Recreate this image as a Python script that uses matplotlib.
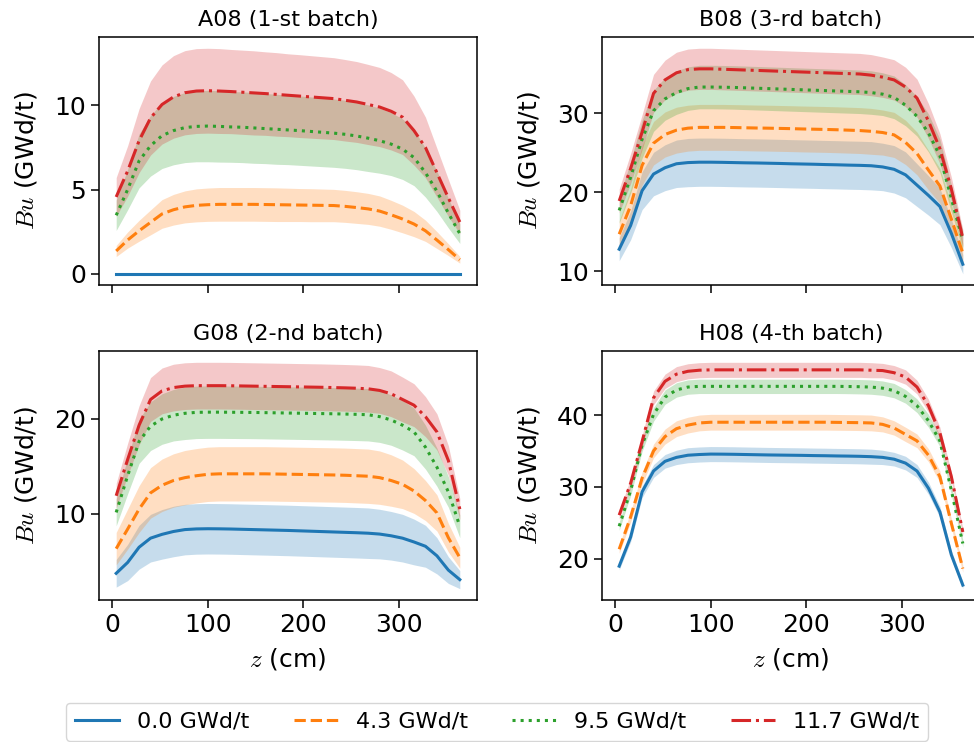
import matplotlib
matplotlib.use('Agg')
import matplotlib.pyplot as plt
import numpy as np

plt.rcParams['mathtext.fontset'] = 'cm'
plt.rcParams['font.family'] = ['DejaVu Sans']

# axial positions (cm)
z = [4, 16, 28, 40, 52, 64, 76, 88, 100, 112, 124, 136, 148, 160, 172, 184,
     196, 208, 220, 232, 244, 256, 268, 280, 292, 304, 316, 328, 340, 352, 364]

labels = ['0.0 GWd/t', '4.3 GWd/t', '9.5 GWd/t', '11.7 GWd/t']
titles = ['A08 (1-st batch)', 'B08 (3-rd batch)', 'G08 (2-nd batch)', 'H08 (4-th batch)']
yticks = [[0, 5, 10], [10, 20, 30], [10, 20], [20, 30, 40]]
xticks = [0, 100, 200, 300]

# ---- A08 ----
a_blue = [0.0, 0.0, 0.0, 0.0, 0.0, 0.0, 0.0, 0.0, 0.0, 0.0, 0.0, 0.0, 0.0, 0.0, 0.0, 0.0,
          0.0, 0.0, 0.0, 0.0, 0.0, 0.0, 0.0, 0.0, 0.0, 0.0, 0.0, 0.0, 0.0, 0.0, 0.0]
a_blue_sd = [0.0, 0.0, 0.0, 0.0, 0.0, 0.0, 0.0, 0.0, 0.0, 0.0, 0.0, 0.0, 0.0, 0.0, 0.0, 0.0,
             0.0, 0.0, 0.0, 0.0, 0.0, 0.0, 0.0, 0.0, 0.0, 0.0, 0.0, 0.0, 0.0, 0.0, 0.0]
a_orange = [1.35, 2.0, 2.55, 3.05, 3.55, 3.8, 3.97, 4.06, 4.1, 4.12, 4.12, 4.12, 4.12, 4.11, 4.1,
            4.09, 4.08, 4.07, 4.06, 4.05, 4.0, 3.93, 3.85, 3.72, 3.5, 3.25, 2.95, 2.55, 2.0, 1.43, 0.83]
a_orange_sd = [0.33, 0.48, 0.62, 0.74, 0.85, 0.91, 0.95, 0.98, 0.99, 1.0, 1.0, 1.0, 1.0, 1.0, 1.0,
               0.99, 0.98, 0.98, 0.97, 0.96, 0.95, 0.94, 0.92, 0.9, 0.86, 0.82, 0.75, 0.63, 0.5, 0.35, 0.2]
a_green = [3.47, 5.0, 6.7, 7.6, 8.2, 8.5, 8.68, 8.75, 8.77, 8.75, 8.72, 8.7, 8.66, 8.62, 8.58,
           8.54, 8.5, 8.45, 8.4, 8.35, 8.28, 8.18, 8.05, 7.9, 7.7, 7.4, 6.9, 6.0, 4.9, 3.6, 2.38]
a_green_sd = [0.9, 1.2, 1.6, 1.8, 1.95, 2.03, 2.08, 2.1, 2.12, 2.12, 2.1, 2.1, 2.1, 2.08, 2.08,
              2.06, 2.06, 2.05, 2.04, 2.03, 2.02, 2.0, 1.98, 1.93, 1.87, 1.8, 1.67, 1.45, 1.2, 0.88, 0.58]
a_red = [4.56, 6.1, 7.9, 9.25, 10.05, 10.5, 10.75, 10.85, 10.87, 10.85, 10.82, 10.78, 10.74, 10.7, 10.65,
         10.6, 10.55, 10.5, 10.45, 10.4, 10.3, 10.2, 10.05, 9.9, 9.65, 9.3, 8.5, 7.5, 6.0, 4.5, 3.07]
a_red_sd = [1.15, 1.5, 1.9, 2.2, 2.35, 2.45, 2.5, 2.52, 2.52, 2.52, 2.5, 2.5, 2.5, 2.48, 2.48,
            2.46, 2.46, 2.45, 2.44, 2.43, 2.42, 2.4, 2.38, 2.35, 2.3, 2.22, 2.05, 1.8, 1.45, 1.1, 0.7]

# ---- B08 ----
b_blue = [12.8, 15.8, 20.2, 22.3, 23.1, 23.6, 23.75, 23.8, 23.8, 23.78, 23.75, 23.72, 23.7, 23.67, 23.64,
          23.6, 23.57, 23.54, 23.5, 23.47, 23.43, 23.4, 23.35, 23.2, 22.9, 22.2, 20.9, 19.6, 18.2, 14.8, 10.9]
b_blue_sd = [1.45, 1.8, 2.4, 2.75, 2.9, 3.0, 3.05, 3.05, 3.05, 3.05, 3.05, 3.05, 3.05, 3.05, 3.05,
             3.05, 3.05, 3.05, 3.05, 3.05, 3.05, 3.05, 3.05, 3.0, 3.0, 2.9, 2.7, 2.5, 2.3, 1.8, 1.2]
b_orange = [14.7, 18.3, 23.4, 26.2, 27.3, 27.85, 28.1, 28.2, 28.2, 28.2, 28.18, 28.15, 28.12, 28.1, 28.07,
            28.04, 28.0, 27.97, 27.94, 27.9, 27.85, 27.8, 27.7, 27.55, 27.25, 26.3, 24.9, 22.8, 20.8, 16.6, 12.3]
b_orange_sd = [1.7, 2.1, 2.5, 2.75, 2.85, 2.9, 2.9, 2.9, 2.9, 2.9, 2.9, 2.9, 2.9, 2.9, 2.9,
               2.9, 2.9, 2.9, 2.9, 2.9, 2.9, 2.9, 2.9, 2.85, 2.85, 2.8, 2.7, 2.5, 2.2, 1.8, 1.3]
b_green = [17.7, 21.9, 26.7, 30.3, 31.8, 32.6, 33.1, 33.3, 33.3, 33.28, 33.25, 33.2, 33.15, 33.1, 33.05,
           33.0, 32.95, 32.9, 32.85, 32.8, 32.75, 32.7, 32.6, 32.4, 32.0, 31.0, 29.6, 27.5, 24.6, 19.2, 13.9]
b_green_sd = [1.6, 2.0, 2.4, 2.6, 2.7, 2.75, 2.75, 2.75, 2.75, 2.75, 2.75, 2.75, 2.75, 2.75, 2.75,
              2.75, 2.75, 2.75, 2.75, 2.75, 2.75, 2.75, 2.75, 2.7, 2.7, 2.6, 2.5, 2.4, 2.1, 1.7, 1.2]
b_red = [18.9, 23.0, 27.6, 32.5, 34.2, 35.1, 35.5, 35.6, 35.6, 35.55, 35.5, 35.45, 35.4, 35.35, 35.3,
         35.25, 35.2, 35.15, 35.1, 35.05, 35.0, 34.95, 34.8, 34.55, 34.2, 33.3, 31.9, 29.0, 25.5, 20.4, 14.2]
b_red_sd = [1.5, 1.9, 2.2, 2.4, 2.5, 2.6, 2.6, 2.6, 2.6, 2.6, 2.6, 2.6, 2.6, 2.6, 2.6,
            2.6, 2.6, 2.6, 2.6, 2.6, 2.6, 2.6, 2.6, 2.55, 2.55, 2.5, 2.4, 2.2, 1.9, 1.5, 1.1]

# ---- G08 ----
g_blue = [3.76, 4.9, 6.5, 7.45, 7.85, 8.15, 8.35, 8.42, 8.44, 8.43, 8.41, 8.38, 8.35, 8.32, 8.29,
          8.26, 8.22, 8.18, 8.14, 8.1, 8.06, 8.02, 7.97, 7.88, 7.7, 7.45, 7.05, 6.6, 5.6, 4.1, 3.1]
g_blue_sd = [1.45, 1.9, 2.3, 2.5, 2.6, 2.65, 2.65, 2.65, 2.65, 2.65, 2.65, 2.65, 2.65, 2.65, 2.65,
             2.65, 2.65, 2.65, 2.65, 2.65, 2.65, 2.65, 2.65, 2.6, 2.55, 2.5, 2.4, 2.2, 1.9, 1.4, 0.95]
g_orange = [6.35, 8.4, 10.5, 12.2, 13.0, 13.5, 13.8, 14.0, 14.15, 14.2, 14.2, 14.2, 14.2, 14.2, 14.18,
            14.16, 14.14, 14.12, 14.1, 14.08, 14.05, 14.0, 13.95, 13.8, 13.5, 13.1, 12.4, 11.4, 10.1, 7.5, 5.4]
g_orange_sd = [1.7, 2.1, 2.45, 2.65, 2.75, 2.8, 2.85, 2.85, 2.85, 2.85, 2.85, 2.85, 2.85, 2.85, 2.85,
               2.85, 2.85, 2.85, 2.85, 2.85, 2.85, 2.85, 2.85, 2.8, 2.7, 2.55, 2.35, 2.1, 1.9, 1.5, 1.1]
g_green = [10.15, 14.0, 17.6, 19.2, 19.95, 20.35, 20.55, 20.65, 20.67, 20.67, 20.66, 20.65, 20.64, 20.62, 20.6,
           20.58, 20.56, 20.54, 20.52, 20.5, 20.47, 20.44, 20.4, 20.2, 19.85, 19.3, 18.6, 17.0, 14.9, 12.3, 8.7]
g_green_sd = [1.4, 1.9, 2.3, 2.55, 2.65, 2.7, 2.75, 2.75, 2.75, 2.75, 2.75, 2.75, 2.75, 2.75, 2.75,
              2.75, 2.75, 2.75, 2.75, 2.75, 2.75, 2.75, 2.75, 2.7, 2.65, 2.6, 2.5, 2.3, 2.0, 1.6, 1.2]
g_red = [11.9, 15.7, 19.3, 22.0, 22.9, 23.25, 23.4, 23.45, 23.45, 23.45, 23.44, 23.42, 23.4, 23.38, 23.36,
         23.34, 23.32, 23.3, 23.28, 23.25, 23.22, 23.18, 23.12, 22.95, 22.6, 22.0, 21.4, 20.2, 18.6, 15.6, 10.5]
g_red_sd = [1.3, 1.7, 2.05, 2.3, 2.4, 2.45, 2.45, 2.45, 2.45, 2.45, 2.45, 2.45, 2.45, 2.45, 2.45,
            2.45, 2.45, 2.45, 2.45, 2.45, 2.45, 2.45, 2.45, 2.4, 2.4, 2.35, 2.25, 2.1, 1.9, 1.55, 1.1]

# ---- H08 ----
h_blue = [18.94, 23.0, 29.3, 32.2, 33.55, 34.1, 34.4, 34.5, 34.56, 34.55, 34.53, 34.5, 34.47, 34.44, 34.42,
          34.4, 34.38, 34.35, 34.33, 34.3, 34.28, 34.25, 34.2, 34.1, 33.85, 33.3, 32.2, 29.8, 26.5, 20.5, 16.3]
h_blue_sd = [0.5, 0.65, 0.8, 0.9, 0.95, 1.0, 1.05, 1.05, 1.05, 1.05, 1.05, 1.05, 1.05, 1.05, 1.05,
             1.05, 1.05, 1.05, 1.05, 1.05, 1.05, 1.05, 1.05, 1.0, 0.95, 0.95, 0.9, 0.85, 0.75, 0.6, 0.5]
h_orange = [21.3, 25.8, 31.2, 35.0, 37.0, 38.1, 38.6, 38.9, 39.0, 39.0, 39.0, 39.0, 39.0, 39.0, 39.0,
            39.0, 39.0, 39.0, 39.0, 38.98, 38.96, 38.94, 38.9, 38.7, 38.2, 37.3, 36.4, 34.4, 31.4, 24.9, 18.6]
h_orange_sd = [0.55, 0.7, 0.85, 0.95, 1.05, 1.1, 1.1, 1.1, 1.1, 1.1, 1.1, 1.1, 1.1, 1.1, 1.1,
               1.1, 1.1, 1.1, 1.1, 1.1, 1.1, 1.1, 1.1, 1.05, 1.0, 1.0, 0.95, 0.9, 0.8, 0.65, 0.5]
h_green = [24.5, 29.5, 35.8, 40.1, 42.5, 43.5, 43.9, 44.0, 44.0, 44.0, 44.0, 44.0, 44.0, 44.0, 44.0,
           44.0, 44.0, 44.0, 44.0, 44.0, 43.98, 43.95, 43.9, 43.75, 43.4, 42.6, 41.3, 39.2, 36.4, 29.5, 22.1]
h_green_sd = [0.55, 0.7, 0.85, 0.95, 1.0, 1.0, 1.0, 1.0, 1.0, 1.0, 1.0, 1.0, 1.0, 1.0, 1.0,
              1.0, 1.0, 1.0, 1.0, 1.0, 1.0, 1.0, 1.0, 1.0, 1.0, 0.95, 0.95, 0.9, 0.8, 0.65, 0.5]
h_red = [26.05, 30.5, 36.3, 42.4, 44.7, 45.7, 46.1, 46.25, 46.3, 46.3, 46.3, 46.3, 46.3, 46.3, 46.3,
         46.3, 46.3, 46.3, 46.3, 46.3, 46.3, 46.3, 46.25, 46.2, 45.9, 45.3, 43.9, 41.3, 37.5, 31.4, 23.7]
h_red_sd = [0.55, 0.7, 0.85, 0.95, 1.0, 1.05, 1.05, 1.05, 1.05, 1.05, 1.05, 1.05, 1.05, 1.05, 1.05,
            1.05, 1.05, 1.05, 1.05, 1.05, 1.05, 1.05, 1.05, 1.0, 1.0, 1.0, 0.95, 0.9, 0.8, 0.65, 0.5]

panels = [
    [(a_blue, a_blue_sd), (a_orange, a_orange_sd), (a_green, a_green_sd), (a_red, a_red_sd)],
    [(b_blue, b_blue_sd), (b_orange, b_orange_sd), (b_green, b_green_sd), (b_red, b_red_sd)],
    [(g_blue, g_blue_sd), (g_orange, g_orange_sd), (g_green, g_green_sd), (g_red, g_red_sd)],
    [(h_blue, h_blue_sd), (h_orange, h_orange_sd), (h_green, h_green_sd), (h_red, h_red_sd)],
]

colors = ['#1f77b4', '#ff7f0e', '#2ca02c', '#d62728']
styles = ['-', '--', ':', '-.']

W, H = 974, 742
fig = plt.figure(figsize=(W / 100, H / 100), dpi=100)

# axes boxes in pixels: left, top, width, height
boxes = [(99, 37, 378, 248), (602, 37, 378, 248), (99, 351, 378, 249), (602, 351, 378, 249)]
axes = []
for i, (l, t, w, h) in enumerate(boxes):
    rect = [l / W, 1 - (t + h) / H, w / W, h / H]
    if i == 0:
        ax = fig.add_axes(rect)
    else:
        ax = fig.add_axes(rect, sharex=axes[0])
    axes.append(ax)

zz = np.array(z)
handles = []
for i, ax in enumerate(axes):
    for k, (mean, sd) in enumerate(panels[i]):
        m = np.array(mean)
        s = np.array(sd)
        ln, = ax.plot(zz, m, color=colors[k], linestyle=styles[k], lw=2.2, label=labels[k])
        ax.fill_between(zz, m - s, m + s, color=colors[k], alpha=0.25, lw=0)
        if i == 0:
            handles.append(ln)
    ax.set_title(titles[i], fontsize=16, pad=8)
    ax.set_yticks(yticks[i])
    ax.set_xticks(xticks)
    ax.tick_params(labelsize=18, length=6, width=1.1)
    for sp in ax.spines.values():
        sp.set_linewidth(1.1)
    ax.set_ylabel(r'$Bu$ (GWd/t)', fontsize=18, labelpad=11)
    if i >= 2:
        ax.set_xlabel(r'$z$ (cm)', fontsize=18, labelpad=6)
    else:
        ax.tick_params(labelbottom=False)

fig.legend(handles, labels, loc='upper center', bbox_to_anchor=(497 / W, 1 - 703 / H),
           ncol=4, fontsize=16, borderaxespad=0, handlelength=2.0)

fig.savefig('out.png', dpi=100)
